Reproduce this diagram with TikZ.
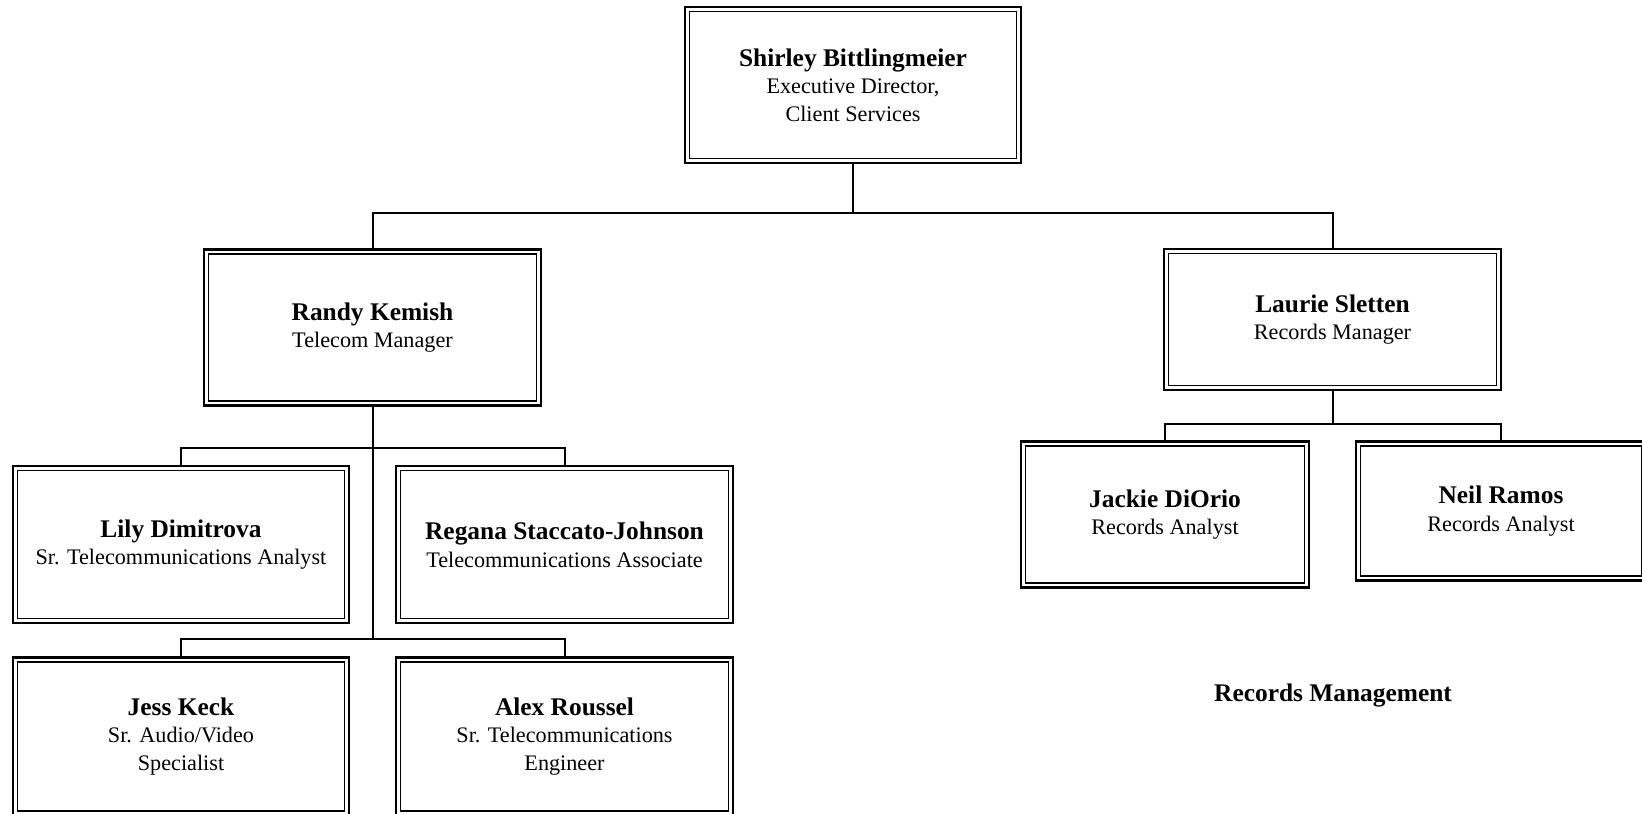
\documentclass[tikz,border=0pt]{standalone}
\usepackage{fontspec}
\setmainfont{Liberation Serif}
\newcommand\nm[1]{{\fontsize{12.7}{13.8}\selectfont\bfseries #1}}
\begin{document}
\begin{tikzpicture}[x=0.5pt,y=-0.5pt,
  orgbox/.style={draw, line width=1.3pt, inner sep=0pt, align=center,
    font=\fontsize{11.1}{13.8}\selectfont,
    path picture={\draw[line width=0.8pt]
      ([shift={(2.3pt,-2.3pt)}]path picture bounding box.north west) rectangle
      ([shift={(-2.3pt,2.3pt)}]path picture bounding box.south east);}},
  conn/.style={line width=1pt},
  lbl/.style={font=\fontsize{12.7}{13.8}\selectfont\bfseries}]
\useasboundingbox (0,0) rectangle (1642,813);
\fill[white] (0,0) rectangle (1642,813);
\clip (0,0) rectangle (1642,813);

\node[orgbox, minimum width=168pt, minimum height=78pt] (top) at (853,85)
  {\nm{Shirley Bittlingmeier}\\Executive Director,\\Client Services};
\node[orgbox, minimum width=168.5pt, minimum height=78pt] (randy) at (372.5,327.5)
  {\nm{Randy Kemish}\\Telecom Manager};
\node[orgbox, minimum width=168.5pt, minimum height=70.5pt] (laurie) at (1332.5,319.5)
  {\nm{Laurie Sletten}\\Records Manager};
\node[orgbox, minimum width=168pt, minimum height=78.5pt] (lily) at (181,544.5)
  {\nm{Lily Dimitrova}\\Sr. Telecommunications Analyst};
\node[orgbox, minimum width=168.5pt, minimum height=78.5pt] (regana) at (564.5,544.5)
  {\nm{Regana Staccato-Johnson}\\Telecommunications Associate};
\node[orgbox, minimum width=168pt, minimum height=79pt] (jess) at (181,736.5)
  {\nm{Jess Keck}\\Sr. Audio/Video\\Specialist};
\node[orgbox, minimum width=168.5pt, minimum height=79pt] (alex) at (564.5,736.5)
  {\nm{Alex Roussel}\\Sr. Telecommunications\\Engineer};
\node[orgbox, minimum width=144pt, minimum height=73pt] (jackie) at (1165,514.5)
  {\nm{Jackie DiOrio}\\Records Analyst};
\node[orgbox, minimum width=145pt, minimum height=69.5pt] (neil) at (1501,511)
  {\nm{Neil Ramos}\\Records Analyst};
\node[lbl] (recmgmt) at (1333,695) {Records Management};

\coordinate (b1) at (853,213);
\coordinate (b2) at (372.5,448);
\coordinate (b3) at (372.5,639);
\coordinate (b4) at (1332.5,424);

\draw[conn] (top.south) -- (b1);
\draw[conn] (randy.north) |- (b1) -| (laurie.north);
\draw[conn] (randy.south) -- (b3);
\draw[conn] (lily.north) |- (b2) -| (regana.north);
\draw[conn] (jess.north) |- (b3) -| (alex.north);
\draw[conn] (laurie.south) -- (b4);
\draw[conn] (jackie.north) |- (b4) -| (neil.north);
\end{tikzpicture}
\end{document}
